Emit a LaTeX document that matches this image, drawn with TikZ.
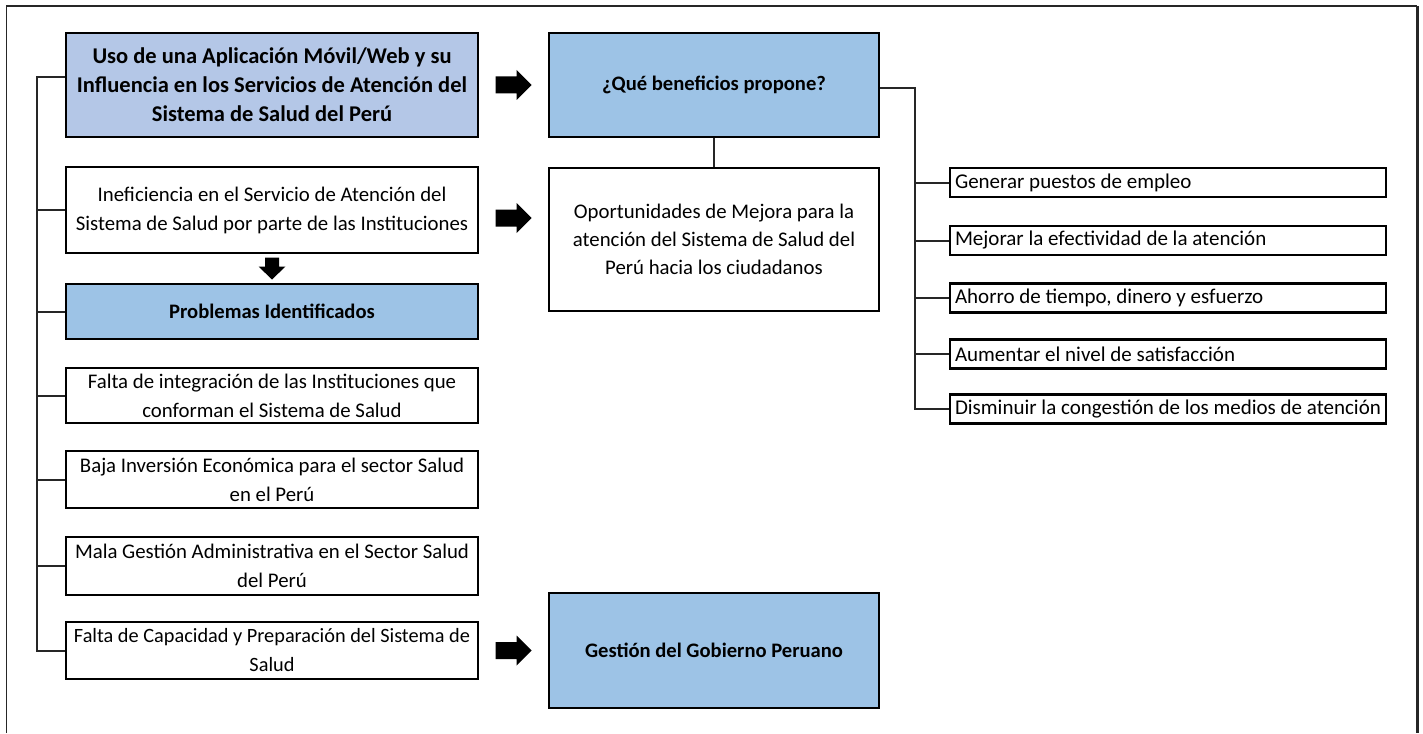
\documentclass[tikz,border=0pt]{standalone}
\usepackage{fontspec}
\setmainfont{Carlito}
\usetikzlibrary{calc}
\definecolor{titlefill}{HTML}{B4C7E7}
\definecolor{headfill}{HTML}{9DC3E6}
\begin{document}
\begin{tikzpicture}[x=1pt,y=-1pt,
  box/.style={draw=black, line width=2.4pt, align=center, inner sep=0pt, font=\fontsize{20.8}{29}\selectfont},
  wbox/.style={box, minimum width=412pt},
  cbox/.style={box, minimum width=330pt},
  bold/.style={font=\bfseries\fontsize{20.6}{29}\selectfont},
  rbox/.style={draw=black, line width=2.4pt, align=flush left, inner sep=5pt, text width=426pt, minimum height=29pt, font=\fontsize{21}{24}\selectfont},
  conn/.style={line width=2pt, draw=black!85},
  rarr/.pic={\fill[black] (-18,-8.5) -- (3,-8.5) -- (3,-15) -- (18,0) -- (3,15) -- (3,8.5) -- (-18,8.5) -- cycle;},
  darr/.pic={\fill[black] (-7,-11) -- (7,-11) -- (7,-2) -- (13.5,-2) -- (0,11) -- (-13.5,-2) -- (-7,-2) -- cycle;}
]
\useasboundingbox (0,0) rectangle (1423,733);
\fill[white] (0,0) rectangle (1423,733);
% frame
\draw[line width=1.5pt, black!85] (6.5,733) -- (6.5,6) -- (1417,6);
\draw[line width=3pt, black!85] (1417,6) -- (1417,733);

% left column
\node[wbox, fill=titlefill, minimum height=104pt, font=\bfseries\fontsize{22.5}{29}\selectfont] (A) at (272,85)
  {Uso de una Aplicación Móvil/Web y su\\Influencia en los Servicios de Atención del\\Sistema de Salud del Perú};
\node[wbox, minimum height=86pt] (I) at (272,210)
  {Ineficiencia en el Servicio de Atención del\\Sistema de Salud por parte de las Instituciones};
\node[wbox, bold, fill=headfill, minimum height=55pt] (P) at (272,311.5)
  {Problemas Identificados};
\node[wbox, minimum height=55pt] (F1) at (272,395.5)
  {Falta de integración de las Instituciones que\\conforman el Sistema de Salud};
\node[wbox, minimum height=57pt] (F2) at (272,479.5)
  {Baja Inversión Económica para el sector Salud\\en el Perú};
\node[wbox, minimum height=58pt] (F3) at (272,566)
  {Mala Gestión Administrativa en el Sector Salud\\del Perú};
\node[wbox, minimum height=57pt, font=\fontsize{20.3}{29}\selectfont] (F4) at (272,650.5)
  {Falta de Capacidad y Preparación del Sistema de\\Salud};

% middle column
\node[cbox, bold, fill=headfill, minimum height=104pt] (Q) at (714,85)
  {¿Qué beneficios propone?};
\node[cbox, minimum height=143pt, font=\fontsize{20.8}{28}\selectfont] (O) at (714,239.5)
  {Oportunidades de Mejora para la\\atención del Sistema de Salud del\\Perú hacia los ciudadanos};
\node[cbox, bold, fill=headfill, minimum height=115pt] (G) at (714,650.5)
  {Gestión del Gobierno Peruano};

% right column
\node[rbox] (R1) at (1168,182.5) {Generar puestos de empleo};
\node[rbox] (R2) at (1168,240.5) {Mejorar la efectividad de la atención};
\node[rbox] (R3) at (1168,298) {Ahorro de tiempo, dinero y esfuerzo};
\node[rbox] (R4) at (1168,354) {Aumentar el nivel de satisfacción};
\node[rbox] (R5) at (1168,409) {Disminuir la congestión de los medios de atención};

% left trunk
\coordinate (lt) at (37,77);
\draw[conn] (A.west |- lt) -- (lt) |- (F4.west);
\foreach \n in {I,P,F1,F2,F3} \draw[conn] (lt |- \n.west) -- (\n.west);

% right trunk
\coordinate (rt) at (915,88);
\draw[conn] (Q.east |- rt) -- (rt) |- (R5.west);
\foreach \n in {R1,R2,R3,R4} \draw[conn] (rt |- \n.west) -- (\n.west);

% Q to O
\draw[conn] (Q.south) -- (O.north);

% block arrows
\pic at ($(A.east)!0.5!(Q.west)$) {rarr};
\pic at ($(I.east)!0.5!(I.east -| O.west) + (0,8)$) {rarr};
\pic at ($(F4.east)!0.5!(G.west)$) {rarr};
\pic at ($(I.south)!0.5!(P.north)$) {darr};
\end{tikzpicture}
\end{document}
